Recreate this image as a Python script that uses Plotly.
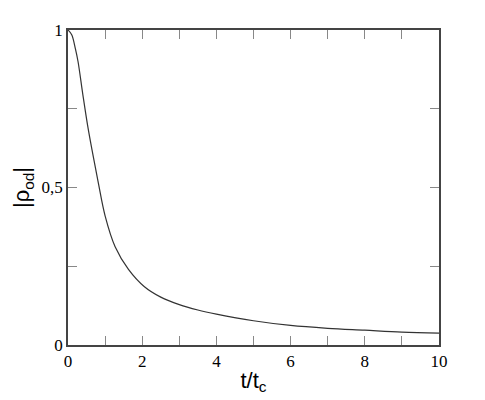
import plotly.graph_objects as go

t_values = [0, 0.1, 0.2, 0.27, 0.4, 0.54, 0.67, 0.82, 1.0, 1.27, 1.63, 2.06,
            2.5, 3.0, 3.5, 4.0, 5.0, 6.0, 7.0, 8.0, 9.0, 10.0]
rho_values = [1.0, 0.985, 0.94, 0.90, 0.795, 0.689, 0.605, 0.513, 0.410, 0.312,
              0.240, 0.185, 0.152, 0.128, 0.111, 0.098, 0.077, 0.062, 0.053,
              0.047, 0.041, 0.038]

x_tickvals = [0, 2, 4, 6, 8, 10]
x_ticktext = ["0", "2", "4", "6", "8", "10"]
y_tickvals = [0, 0.5, 1]
y_ticktext = ["0", "0,5", "1"]

fig = go.Figure()
fig.add_trace(go.Scatter(x=t_values, y=rho_values, mode="lines",
                         line=dict(color="#333333", width=1.2, shape="spline", smoothing=1.0),
                         showlegend=False, hoverinfo="skip"))

tick_font = dict(family="Times New Roman, Liberation Serif, DejaVu Serif, serif", size=17, color="black")
title_font = dict(family="Arial, Liberation Sans, sans-serif", size=22, color="black")

fig.update_layout(
    width=485, height=400,
    margin=dict(l=68, r=46, t=30, b=55),
    plot_bgcolor="white", paper_bgcolor="white",
    xaxis=dict(range=[0, 10], tickvals=x_tickvals, ticktext=x_ticktext,
               ticks="inside", ticklen=9, tickwidth=1, tickcolor="#888888",
               minor=dict(tickvals=[1, 3, 5, 7, 9], ticks="inside", ticklen=9,
                          tickwidth=1, tickcolor="#888888"),
               showline=True, linecolor="#444444", linewidth=1.5, mirror="ticks",
               showgrid=False, zeroline=False, tickfont=tick_font,
               title=dict(text="t/t<sub>c</sub>", font=title_font, standoff=2)),
    yaxis=dict(range=[0, 1], tickvals=y_tickvals, ticktext=y_ticktext,
               ticks="inside", ticklen=9, tickwidth=1, tickcolor="#888888",
               minor=dict(tickvals=[0.25, 0.75], ticks="inside", ticklen=9,
                          tickwidth=1, tickcolor="#888888"),
               showline=True, linecolor="#444444", linewidth=1.5, mirror="ticks",
               showgrid=False, zeroline=False, tickfont=tick_font,
               title=dict(text="|ρ<sub>od</sub>|", font=title_font, standoff=6)),
)

fig.write_html("out.html", config={"displayModeBar": False},
               post_script="document.body.style.margin='0';")
